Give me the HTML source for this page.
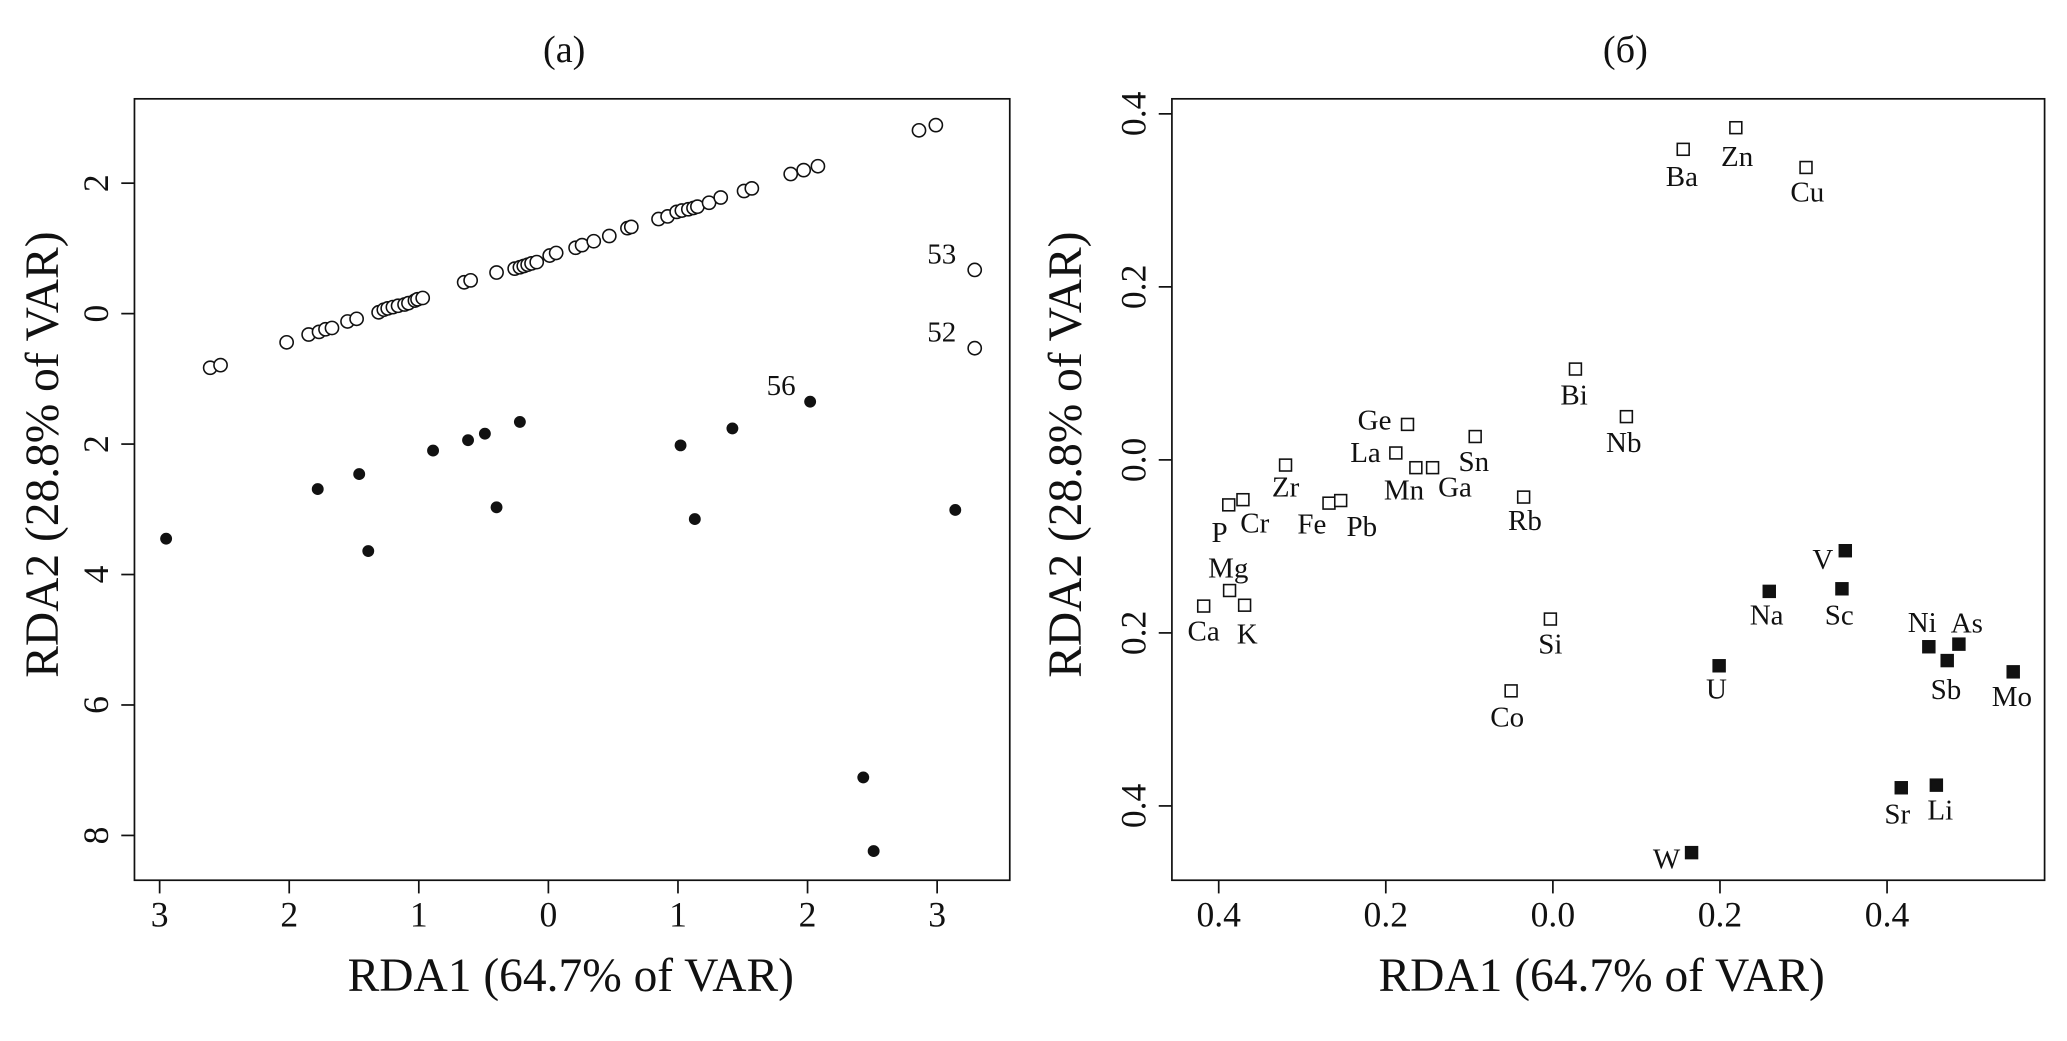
<!DOCTYPE html>
<html><head><meta charset="utf-8"><style>
html,body{margin:0;padding:0;background:#fff}
svg{display:block}
text{font-family:"Liberation Serif",serif;fill:#111}
</style></head><body>
<svg id="c" width="2067" height="1041" viewBox="0 0 1568 790" preserveAspectRatio="none"></svg>
<script>
// Panel (a) data
const aOpenX=[-2.61,-2.53,-2.02,-1.85,-1.77,-1.72,-1.67,-1.55,-1.48,-1.31,-1.27,-1.24,-1.20,-1.16,-1.11,-1.08,-1.03,-1.01,-0.97,-0.65,-0.60,-0.40,-0.26,-0.22,-0.19,-0.16,-0.13,-0.09,0.01,0.06,0.21,0.26,0.35,0.47,0.61,0.64,0.85,0.92,0.99,1.03,1.08,1.12,1.15,1.24,1.33,1.51,1.57,1.87,1.97,2.08,2.86,2.99,3.29,3.29];
const aOpenY=[-0.83,-0.79,-0.44,-0.32,-0.28,-0.24,-0.22,-0.12,-0.08,0.02,0.06,0.08,0.10,0.12,0.14,0.16,0.20,0.22,0.24,0.48,0.51,0.63,0.69,0.71,0.73,0.75,0.77,0.79,0.89,0.93,1.01,1.05,1.11,1.19,1.31,1.33,1.45,1.49,1.56,1.58,1.60,1.62,1.64,1.70,1.78,1.88,1.92,2.14,2.20,2.26,2.81,2.89,0.67,-0.53];
const aOpenLab=["","","","","","","","","","","","","","","","","","","","","","","","","","","","","","","","","","","","","","","","","","","","","","","","","","","","","53","52"];
const aFillX=[-2.95,-1.78,-1.46,-1.39,-0.89,-0.62,-0.49,-0.40,-0.22,1.02,1.13,1.42,2.02,2.43,2.51,3.14];
const aFillY=[-3.45,-2.69,-2.46,-3.64,-2.10,-1.94,-1.84,-2.97,-1.66,-2.02,-3.15,-1.76,-1.35,-7.11,-8.24,-3.01];
const aFillLab=["","","","","","","","","","","","","56","","",""];
const aXTicks=[-3,-2,-1,0,1,2,3];
const aXTickLab=["3","2","1","0","1","2","3"];
const aYTicks=[2,0,-2,-4,-6,-8];
const aYTickLab=["2","0","2","4","6","8"];
// Panel (b) data
const bNames=["Ba","Zn","Cu","Bi","Nb","Ge","La","Mn","Ga","Sn","Zr","P","Cr","Fe","Pb","Rb","Mg","Ca","K","Si","Co","U","Na","V","Sc","Ni","As","Sb","Mo","Sr","Li","W"];
const bX=[0.156,0.219,0.303,0.027,0.088,-0.174,-0.188,-0.164,-0.144,-0.093,-0.320,-0.388,-0.371,-0.268,-0.254,-0.035,-0.387,-0.418,-0.369,-0.003,-0.050,0.199,0.259,0.350,0.346,0.450,0.486,0.472,0.551,0.417,0.459,0.166];
const bY=[0.359,0.384,0.338,0.105,0.050,0.041,0.008,-0.009,-0.009,0.027,-0.006,-0.052,-0.046,-0.050,-0.047,-0.043,-0.151,-0.169,-0.168,-0.184,-0.267,-0.238,-0.152,-0.105,-0.149,-0.216,-0.213,-0.232,-0.245,-0.379,-0.376,-0.454];
const bFilled=[0,0,0,0,0,0,0,0,0,0,0,0,0,0,0,0,0,0,0,0,0,1,1,1,1,1,1,1,1,1,1,1];
const bXTicks=[-0.4,-0.2,0,0.2,0.4];
const bXTickLab=["0.4","0.2","0.0","0.2","0.4"];
const bYTicks=[0.4,0.2,0,-0.2,-0.4];
const bYTickLab=["0.4","0.2","0.0","0.2","0.4"];
// label offsets (styling)
const bLabOff=[[-1,21],[1,22],[1,19],[-1,20],[-2,20],[-25,-3],[-23,0],[-9,17],[17,15],[-1,19],[0,17],[-7,21],[9,18],[-13,16],[16,20],[1,18],[-1,-17],[0,19],[2,22],[0,19],[-3,20],[-2,18],[-2,18],[-17,7],[-2,20],[-5,-18],[6,-16],[-1,22],[-1,19],[-3,20],[3,19],[-19,5]];

const NS="http://www.w3.org/2000/svg";
const svg=document.getElementById('c');
function mk(t,a,p){const e=document.createElementNS(NS,t);for(const k in a)e.setAttribute(k,a[k]);(p||svg).appendChild(e);return e;}

function ax(x0,x1,p0,p1){return v=>p0+(v-x0)*(p1-p0)/(x1-x0);}
const aSX=ax(0,1,416,514.3), aSY=ax(0,1,238,188.5);
const bSX=ax(0,0.2,1178,1304.75), bSY=ax(0,0.2,349,217.7);

function frame(name,x,y,w,h){
  const r=mk('rect',{x:x,y:y,width:w,height:h,fill:'none',stroke:'#111','stroke-width':1.3});
  
  
}
function axes(prefix,sx,sy,xt,xl,yt,yl,left,bottom){
  const g=mk('g',{});
  
  
  xt.forEach((v,i)=>{const x=sx(v);
    mk('line',{x1:x,y1:bottom,x2:x,y2:bottom+10,stroke:'#111','stroke-width':1.3},g);
    const t=mk('text',{x:x,y:bottom+35,'text-anchor':'middle','font-size':27},g);t.textContent=xl[i];
    
    });
  yt.forEach((v,i)=>{const y=sy(v);
    mk('line',{x1:left,y1:y,x2:left-10,y2:y,stroke:'#111','stroke-width':1.3},g);
    const t=mk('text',{x:left-20,y:y,'text-anchor':'middle','font-size':27,transform:`rotate(-90 ${left-20} ${y})`},g);t.textContent=yl[i];
    
    });
}
function txt(name,s,x,y,size,rot){
  const t=mk('text',{x:x,y:y,'text-anchor':'middle','font-size':size});
  if(rot)t.setAttribute('transform',`rotate(-90 ${x} ${y})`);
  t.textContent=s;
  
  
}
// Panel a
frame('panel-a-plot-area',102,75,664,593);
axes('panel-a',aSX,aSY,aXTicks,aXTickLab,aYTicks,aYTickLab,102,668);
txt('panel-a-title','(a)',428,47,29);
txt('panel-a-x-axis-title','RDA1 (64.7% of VAR)',433,752,36);
txt('panel-a-y-axis-title','RDA2 (28.8% of VAR)',44,345,36,true);
aOpenX.forEach((v,i)=>{const c=mk('circle',{cx:aSX(v),cy:aSY(aOpenY[i]),r:5,fill:'#fff',stroke:'#111','stroke-width':1.2});
  
  
  if(aOpenLab[i]){const t=mk('text',{x:aSX(v)-25,y:aSY(aOpenY[i])-5,'text-anchor':'middle','font-size':22});t.textContent=aOpenLab[i];
    
    }});
aFillX.forEach((v,i)=>{const c=mk('circle',{cx:aSX(v),cy:aSY(aFillY[i]),r:4.5,fill:'#111'});
  
  
  if(aFillLab[i]){const t=mk('text',{x:aSX(v)-22,y:aSY(aFillY[i])-5,'text-anchor':'middle','font-size':22});t.textContent=aFillLab[i];
    
    }});
// Panel b
frame('panel-b-plot-area',889,75,662,593);
axes('panel-b',bSX,bSY,bXTicks,bXTickLab,bYTicks,bYTickLab,889,668);
txt('panel-b-title','(б)',1233,47,29);
txt('panel-b-x-axis-title','RDA1 (64.7% of VAR)',1215,752,36);
txt('panel-b-y-axis-title','RDA2 (28.8% of VAR)',820,345,36,true);
bNames.forEach((n,i)=>{const x=bSX(bX[i]),y=bSY(bY[i]);
  const r=mk('rect',{x:x-4.5,y:y-4.5,width:9,height:9,fill:bFilled[i]?'#111':'#fff',stroke:'#111','stroke-width':1.2});
  
  
  const o=bLabOff[i];
  const t=mk('text',{x:x+o[0],y:y+o[1]+7,'text-anchor':'middle','font-size':22});t.textContent=n;
  
  });
</script>
</body></html>
